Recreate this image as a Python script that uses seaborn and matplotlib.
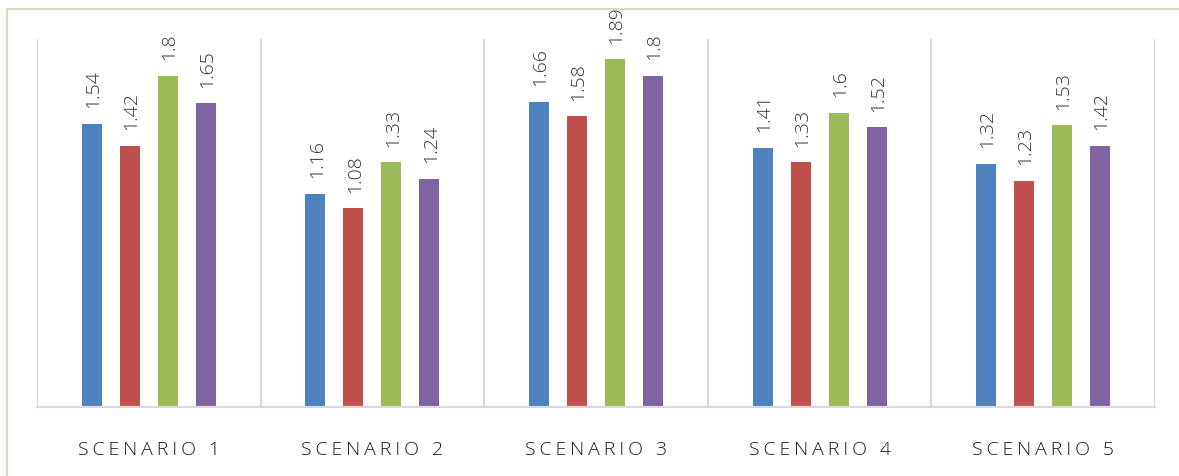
import numpy as np
import pandas as pd
import matplotlib.pyplot as plt
import seaborn as sns
from matplotlib.lines import Line2D

scenarios = ['SCENARIO 1', 'SCENARIO 2', 'SCENARIO 3', 'SCENARIO 4', 'SCENARIO 5']
series = ['A', 'B', 'C', 'D']
vals_a = [1.54, 1.16, 1.66, 1.41, 1.32]
vals_b = [1.42, 1.08, 1.58, 1.33, 1.23]
vals_c = [1.80, 1.33, 1.89, 1.60, 1.53]
vals_d = [1.65, 1.24, 1.80, 1.52, 1.42]
labels_a = ['1.54', '1.16', '1.66', '1.41', '1.32']
labels_b = ['1.42', '1.08', '1.58', '1.33', '1.23']
labels_c = ['1.8', '1.33', '1.89', '1.6', '1.53']
labels_d = ['1.65', '1.24', '1.8', '1.52', '1.42']

colors = ['#4F81BD', '#C0504D', '#9BBB59', '#8064A2']

rows = []
for s, v in zip(series, [vals_a, vals_b, vals_c, vals_d]):
    for sc, x in zip(scenarios, v):
        rows.append([sc, s, x])
df = pd.DataFrame(rows, columns=['scenario', 'series', 'value'])
all_labels = [labels_a, labels_b, labels_c, labels_d]

sns.set_style('white')
plt.rcParams['font.family'] = ['Open Sans', 'DejaVu Sans']

fig = plt.figure(figsize=(11.79, 4.77), dpi=100)
ax = fig.add_axes([37 / 1179, 1 - 408 / 477, (1155 - 37) / 1179, (408 - 40) / 477])

sns.barplot(data=df, x='scenario', y='value', hue='series', order=scenarios,
            hue_order=series, palette=colors, width=0.68, gap=0.47,
            legend=False, ax=ax, saturation=1, edgecolor='none')

for cont, labs in zip(ax.containers, all_labels):
    for bar, lab in zip(cont, labs):
        ax.annotate(lab, (bar.get_x() + bar.get_width() / 2, bar.get_height()),
                    xytext=(1, 12), textcoords='offset points', rotation=90,
                    ha='center', va='bottom', fontsize=14, fontweight='light',
                    color='#333333')

for i in range(len(scenarios) + 1):
    ax.axvline(i - 0.5, color='#d9d9d9', lw=1.6, zorder=0)

ax.set_xlim(-0.5, len(scenarios) - 0.5)
ax.set_ylim(0, 2.0)
for sp in ['top', 'right', 'left']:
    ax.spines[sp].set_visible(False)
ax.spines['bottom'].set_color('#d9d9d9')
ax.spines['bottom'].set_linewidth(1.6)
ax.set_yticks([])
ax.set_xlabel('')
ax.set_ylabel('')

# letter-spaced category labels
spaced = ['\u2009'.join(s) for s in scenarios]
ax.set_xticks(range(len(scenarios)))
ax.set_xticklabels(spaced, fontsize=14, fontweight='light', color='#1a1a1a')
ax.tick_params(axis='x', length=0, pad=24)

# outer frame remnant
fy = 1 - 10 / 477
fx = 7 / 1179
fig.add_artist(Line2D([fx, 1], [fy, fy], color='#ddd9c3', lw=1.6))
fig.add_artist(Line2D([fx, fx], [0, fy], color='#ddd9c3', lw=1.6))

fig.savefig('out.png', dpi=100)
